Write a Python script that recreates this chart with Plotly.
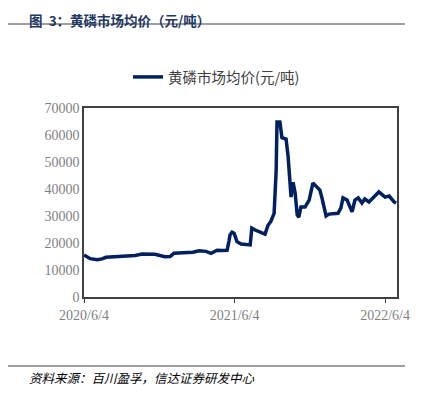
import plotly.graph_objects as go

dates = [
    "2020-06-04", "2020-06-11", "2020-06-19", "2020-07-06", "2020-07-18", "2020-07-27",
    "2020-08-18", "2020-09-11", "2020-10-06", "2020-10-23", "2020-11-23", "2020-12-17",
    "2020-12-30", "2021-01-08", "2021-02-04", "2021-02-23", "2021-03-10", "2021-03-27",
    "2021-04-08", "2021-04-23", "2021-05-05", "2021-05-17", "2021-05-22", "2021-05-24",
    "2021-05-29", "2021-06-03", "2021-06-10", "2021-06-20", "2021-07-12", "2021-07-16",
    "2021-07-24", "2021-08-02", "2021-08-10", "2021-08-17", "2021-08-24", "2021-08-31",
    "2021-09-08", "2021-09-13", "2021-09-15", "2021-09-22", "2021-09-27", "2021-10-07",
    "2021-10-12", "2021-10-19", "2021-10-24", "2021-10-29", "2021-11-03", "2021-11-07",
    "2021-11-12", "2021-11-22", "2021-12-02", "2021-12-11", "2021-12-21", "2021-12-28",
    "2022-01-02", "2022-01-12", "2022-01-19", "2022-02-10", "2022-02-17", "2022-02-22",
    "2022-03-04", "2022-03-16", "2022-03-23", "2022-03-31", "2022-04-09", "2022-04-16",
    "2022-04-26", "2022-05-06", "2022-05-20", "2022-06-04", "2022-06-14", "2022-06-26",
    "2022-07-01",
]
prices = [
    15600, 14800, 14200, 13800, 14100, 14700,
    14900, 15100, 15400, 15900, 15800, 14900,
    15000, 16200, 16400, 16600, 17100, 16900,
    16200, 17300, 17200, 17300, 21000, 23000,
    24000, 23600, 20500, 19600, 19300, 25500,
    24800, 24200, 24000, 23300, 26500, 28000,
    31000, 47000, 64800, 64800, 59000, 58500,
    52000, 37000, 42500, 38500, 30400, 29600,
    33300, 33300, 35900, 42200, 40700, 39600,
    36700, 30000, 30700, 31000, 33000, 36700,
    35900, 31500, 35900, 36700, 34800, 36300,
    35200, 36700, 38900, 37000, 37400, 35200,
    34800,
]
series_name = "黄磷市场均价(元/吨)"
tick_dates = ["2020-06-04", "2021-06-04", "2022-06-04"]
tick_labels = ["2020/6/4", "2021/6/4", "2022/6/4"]
title_text = "图  3：黄磷市场均价（元/吨）"
source_text = "资料来源：百川盈孚，信达证券研发中心"

fig = go.Figure()
fig.add_trace(go.Scatter(
    x=dates, y=prices, mode="lines", name=series_name,
    line=dict(color="#002060", width=3.5),
))

# the page body has an 8px margin; work in page pixels and convert
OFF = 8
W, H = 423 - OFF, 393 - OFF
L, R, T, B = 84 - OFF, 26, 108 - OFF, 96
pw = W - L - R
ph = H - T - B

def px(x):
    return (x - OFF - L) / pw

def py(y):
    return (H - B - (y - OFF)) / ph

fig.update_layout(
    width=W, height=H,
    margin=dict(l=L, r=R, t=T, b=B, autoexpand=False),
    paper_bgcolor="white", plot_bgcolor="white",
    showlegend=True,
    legend=dict(
        x=px(128), y=py(77), xanchor="left", yanchor="middle",
        orientation="h", font=dict(family="Noto Sans CJK SC", size=14.5, color="#404040"),
        bgcolor="rgba(0,0,0,0)",
    ),
    xaxis=dict(
        type="date", range=["2020-06-04", "2022-07-03"],
        tickvals=tick_dates, ticktext=tick_labels,
        ticks="outside", ticklen=4, tickcolor="#404040", tickwidth=1,
        showgrid=False, zeroline=False,
        showline=True, linecolor="#404040", linewidth=1.5, mirror=True,
        tickfont=dict(family="Liberation Serif", size=14, color="#7f7f7f"),
    ),
    yaxis=dict(
        range=[0, 70000], dtick=10000, tickformat="d",
        showgrid=False, zeroline=False, ticks="",
        showline=True, linecolor="#404040", linewidth=1.5, mirror=True,
        tickfont=dict(family="Liberation Serif", size=14, color="#7f7f7f"),
    ),
    shapes=[
        dict(type="line", xref="paper", yref="paper", x0=px(OFF), x1=px(405),
             y0=py(24), y1=py(24), line=dict(color="#404040", width=1)),
        dict(type="line", xref="paper", yref="paper", x0=px(OFF), x1=px(405),
             y0=py(366), y1=py(366), line=dict(color="#404040", width=1)),
    ],
    annotations=[
        dict(text="<b>" + title_text + "</b>", xref="paper", yref="paper",
             x=px(27), y=py(OFF), xanchor="left", yanchor="top", showarrow=False,
             font=dict(family="Noto Sans CJK SC", size=13.5, color="#1f3864")),
        dict(text="<i>" + source_text + "</i>", xref="paper", yref="paper",
             x=px(27), y=py(377), xanchor="left", yanchor="middle", showarrow=False,
             font=dict(family="Noto Sans CJK SC", size=12.5, color="#000000")),
    ],
)

fig.write_html("out.html")
